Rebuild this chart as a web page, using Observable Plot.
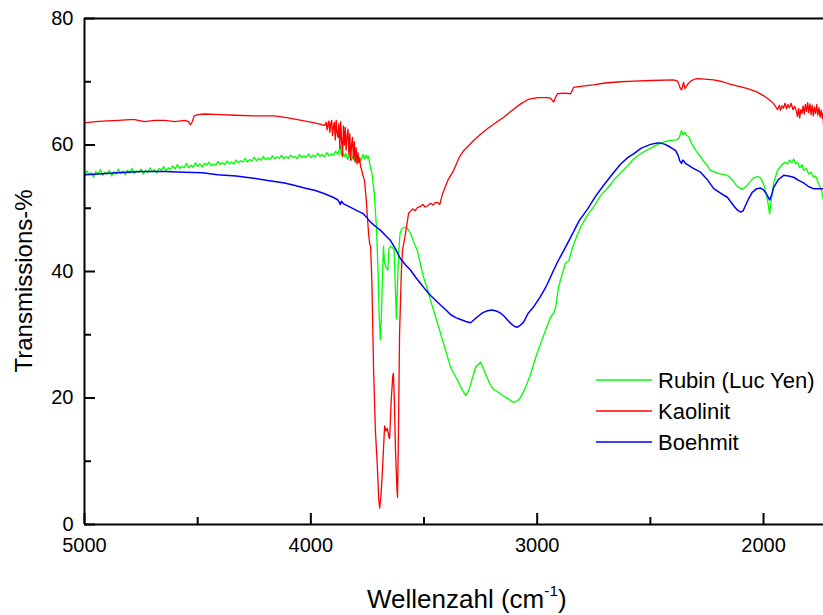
<!DOCTYPE html>
<html><head><meta charset="utf-8">
<script src="https://cdn.jsdelivr.net/npm/d3@7"></script>
<script src="https://cdn.jsdelivr.net/npm/@observablehq/plot@0.6"></script>
<style>body{margin:0;background:#fff}#chart{width:823px;height:615px}</style>
</head><body><div id="chart"></div>
<script>
const seriesNames = ["Rubin (Luc Yen)", "Kaolinit", "Boehmit"];
const seriesColors = ["#00ff00", "#ff0000", "#0000ff"];
const xMajorTicks = [5000, 4000, 3000, 2000];
const xMinorTicks = [4500, 3500, 2500];
const yMajorTicks = [0, 20, 40, 60, 80];
const yMinorTicks = [10, 30, 50, 70];
const xDomain = [5000, 1735];
const yDomain = [0, 80];
const xLabelMain = "Wellenzahl (cm";
const xLabelSup = "-1";
const xLabelEnd = ")";
const yLabel = "Transmissions-%";

// [wavenumber, transmission %]
const rubin = [[5000,55.0],[4990,55.9],[4980,55.3],[4970,55.6],[4960,54.9],[4950,55.8],[4940,55.4],[4930,56.1],[4920,55.2],[4910,55.7],[4900,55.5],[4890,56.0],[4880,55.1],[4870,55.8],[4860,55.4],[4850,56.2],[4840,55.5],[4830,55.9],[4820,55.3],[4810,56.0],[4800,55.6],[4790,56.3],[4780,55.5],[4770,55.9],[4760,55.7],[4750,56.2],[4740,55.4],[4730,56.0],[4720,55.6],[4710,56.4],[4700,55.8],[4690,56.1],[4680,55.6],[4670,56.3],[4660,56.0],[4650,56.6],[4640,55.9],[4630,56.4],[4620,56.1],[4610,56.7],[4600,56.2],[4590,56.9],[4580,56.3],[4570,56.6],[4560,56.4],[4550,57.1],[4540,56.4],[4530,56.8],[4520,56.5],[4510,57.2],[4500,56.6],[4490,57.0],[4480,56.5],[4470,57.1],[4460,56.8],[4450,57.3],[4440,56.7],[4430,57.0],[4420,56.8],[4410,57.4],[4400,56.9],[4390,57.2],[4380,56.9],[4370,57.5],[4360,57.0],[4350,57.3],[4340,57.0],[4330,57.6],[4320,57.2],[4310,57.5],[4300,57.3],[4290,57.9],[4280,57.3],[4270,57.7],[4260,57.5],[4250,58.1],[4240,57.5],[4230,57.9],[4220,57.6],[4210,58.2],[4200,57.7],[4190,58.0],[4180,57.7],[4170,58.3],[4160,57.8],[4150,58.1],[4140,57.9],[4130,58.4],[4120,57.8],[4110,58.2],[4100,57.9],[4090,58.4],[4080,58.0],[4070,58.2],[4060,57.8],[4050,58.5],[4040,58.0],[4030,58.3],[4020,58.0],[4010,58.6],[4000,58.0],[3990,58.4],[3980,58.1],[3970,58.7],[3960,58.2],[3950,58.5],[3940,58.1],[3930,58.8],[3920,58.3],[3910,58.6],[3900,58.4],[3890,59.0],[3880,58.5],[3875,59.2],[3870,59.8],[3865,58.4],[3860,58.9],[3852,58.2],[3845,58.7],[3838,57.7],[3830,58.4],[3822,57.6],[3815,58.2],[3808,57.5],[3800,57.9],[3792,57.3],[3785,58.1],[3778,57.5],[3770,58.5],[3763,57.8],[3756,58.4],[3750,57.9],[3745,58.2],[3740,57.0],[3730,55.5],[3720,52.5],[3710,47],[3703,40],[3698,33],[3693,29.2],[3688,33],[3683,40],[3679,44],[3675,41.5],[3668,40.7],[3660,40.2],[3655,43.5],[3648,44],[3640,43.8],[3632,43.5],[3627,38],[3622,32.5],[3617,38],[3612,43],[3606,46],[3598,46.8],[3585,47],[3573,46.8],[3559,46],[3545,44.6],[3529,43.3],[3515,41],[3502,39.1],[3485,37.2],[3471,35.4],[3450,33.0],[3427,30.2],[3405,27.6],[3383,24.9],[3352,22.8],[3330,21.2],[3316,20.4],[3305,21.0],[3294,22.2],[3272,24.9],[3250,25.7],[3228,23.8],[3210,22.3],[3197,21.5],[3175,21.0],[3153,20.4],[3130,19.9],[3104,19.3],[3085,19.6],[3073,20.1],[3050,21.8],[3029,23.8],[3005,26.6],[2985,28.6],[2960,31.0],[2941,32.8],[2927,33.4],[2918,34.4],[2906,37.5],[2890,39.5],[2875,41.3],[2860,41.7],[2844,43.8],[2825,45.6],[2808,47],[2780,48.8],[2751,50.2],[2720,52.0],[2689,53.2],[2660,54.5],[2631,55.6],[2600,56.7],[2574,57.8],[2540,58.7],[2499,59.5],[2455,60.3],[2420,60.7],[2385,60.8],[2372,61.2],[2362,62.3],[2355,61.6],[2348,62.0],[2340,61.5],[2330,61.3],[2320,60.4],[2309,59.7],[2295,58.9],[2278,58.1],[2255,57.0],[2234,56.0],[2200,55.5],[2159,55.2],[2140,54.6],[2120,53.6],[2100,53.1],[2092,53.0],[2075,53.5],[2066,53.9],[2044,54.8],[2025,55.0],[2013,54.8],[2000,53.9],[1990,52.5],[1982,51.2],[1973,49.1],[1965,51.5],[1955,54.0],[1938,56.0],[1920,56.8],[1905,57.3],[1894,57.0],[1885,57.6],[1875,57.2],[1867,57.8],[1858,57.0],[1850,57.3],[1840,56.4],[1830,56.9],[1823,56.0],[1812,56.3],[1800,55.4],[1790,55.7],[1779,54.9],[1770,55.1],[1757,53.9],[1745,53.0],[1735,51.2]];

const kaolinit = [[5000,63.5],[4950,63.7],[4900,63.8],[4850,63.9],[4800,64.0],[4779,64.0],[4735,63.7],[4690,63.9],[4646,63.9],[4600,63.7],[4558,63.9],[4540,63.7],[4532,63.2],[4525,63.6],[4515,64.6],[4500,64.8],[4470,64.9],[4400,64.8],[4337,64.7],[4250,64.6],[4160,64.6],[4100,64.3],[4059,64.0],[4000,63.6],[3960,63.3],[3939,63.1],[3932,63.6],[3928,62.4],[3924,63.2],[3920,63.8],[3916,62.0],[3912,63.4],[3908,63.9],[3904,61.5],[3900,62.9],[3896,63.6],[3892,60.8],[3888,63.9],[3884,61.9],[3880,61.2],[3876,63.4],[3872,59.5],[3868,63.7],[3864,60.6],[3860,58.2],[3856,63.0],[3852,60.0],[3848,62.8],[3844,59.2],[3840,61.3],[3836,62.5],[3832,58.5],[3828,61.8],[3824,57.6],[3820,60.1],[3816,61.2],[3812,57.8],[3808,60.5],[3804,57.3],[3800,59.6],[3796,57.0],[3792,58.8],[3788,57.2],[3784,57.8],[3780,56.5],[3775,56.0],[3770,55.2],[3763,54.4],[3756,51.7],[3750,48.6],[3745,46.0],[3740,44.4],[3736,44.0],[3730,38],[3723,24.8],[3715,15],[3706,9],[3700,4],[3696,2.6],[3690,4.5],[3683,9],[3674,15.6],[3668,14.8],[3662,15.2],[3655,13.8],[3652,13.6],[3645,19.6],[3638,23.5],[3635,23.9],[3631,19.6],[3626,11.7],[3620,6],[3617,4.3],[3613,14.4],[3608,30.2],[3600,40.0],[3595,43.3],[3582,46.0],[3568,49.2],[3560,49.5],[3550,49.9],[3540,49.6],[3529,50.1],[3515,50.3],[3505,50.6],[3495,50.2],[3484,50.4],[3470,50.8],[3460,50.5],[3450,50.9],[3440,50.9],[3430,50.6],[3418,52.3],[3395,54.4],[3369,56.0],[3345,58.0],[3325,59.1],[3300,60.0],[3281,60.7],[3250,61.7],[3219,62.6],[3180,63.6],[3148,64.4],[3110,65.5],[3073,66.5],[3040,67.2],[2998,67.5],[2960,67.5],[2941,67.4],[2927,66.8],[2918,67.6],[2910,68.1],[2880,68.2],[2852,68.1],[2839,69.1],[2800,69.3],[2751,69.5],[2700,69.8],[2631,70.0],[2574,70.1],[2500,70.2],[2397,70.3],[2380,70.1],[2375,69.7],[2368,69.0],[2362,68.7],[2356,69.5],[2353,69.9],[2348,68.9],[2335,69.6],[2322,70.1],[2305,70.4],[2291,70.5],[2260,70.4],[2220,70.3],[2180,70.0],[2145,69.6],[2100,69.2],[2070,68.9],[2030,68.4],[2000,67.8],[1980,67.3],[1955,66.5],[1945,66.0],[1938,65.6],[1930,66.3],[1925,65.5],[1918,66.2],[1912,65.8],[1905,66.6],[1898,65.7],[1892,66.4],[1885,65.9],[1878,66.6],[1870,65.6],[1862,66.1],[1855,65.4],[1850,64.5],[1845,65.8],[1840,64.3],[1835,65.6],[1830,65.0],[1825,66.2],[1820,64.9],[1815,66.4],[1810,65.3],[1805,66.7],[1800,65.1],[1795,66.5],[1790,64.8],[1785,66.3],[1780,64.6],[1775,66.0],[1770,65.0],[1765,66.4],[1760,64.7],[1755,65.9],[1750,64.4],[1745,65.5],[1740,64.2],[1737,65.0],[1735,63.0]];

const boehmit = [[5000,55.3],[4900,55.5],[4854,55.6],[4750,55.8],[4650,55.8],[4558,55.7],[4480,55.6],[4412,55.3],[4330,55.1],[4262,54.8],[4190,54.4],[4116,54.0],[4070,53.6],[4028,53.2],[3980,52.8],[3939,52.3],[3900,51.7],[3880,51.3],[3870,50.6],[3865,51.1],[3855,50.7],[3811,49.9],[3790,49.5],[3767,49.1],[3750,48.4],[3736,47.8],[3720,47.3],[3692,46.5],[3670,45.7],[3648,44.9],[3625,43.5],[3604,42.0],[3580,41.0],[3559,40.2],[3537,39.1],[3515,38.1],[3493,37.1],[3471,36.2],[3450,35.5],[3427,34.7],[3405,34.0],[3383,33.2],[3360,32.7],[3338,32.4],[3315,32.1],[3294,31.9],[3275,32.5],[3258,33.0],[3240,33.5],[3219,33.8],[3200,33.9],[3184,33.8],[3165,33.5],[3148,33.0],[3130,32.3],[3117,31.8],[3100,31.3],[3087,31.2],[3075,31.5],[3060,32.0],[3040,33.4],[3016,34.4],[2990,35.8],[2970,37.0],[2954,38.1],[2930,40.0],[2910,41.5],[2880,43.5],[2852,45.4],[2815,48.0],[2777,49.9],[2740,52.0],[2707,53.6],[2670,55.3],[2631,57.0],[2600,58.0],[2574,58.6],[2540,59.5],[2499,60.1],[2470,60.3],[2455,60.3],[2435,60.1],[2419,59.8],[2400,59.4],[2388,59.1],[2378,58.4],[2370,57.5],[2362,57.1],[2357,57.6],[2352,57.5],[2345,57.1],[2336,56.9],[2310,56.3],[2278,55.7],[2250,54.6],[2220,53.1],[2190,52.4],[2159,51.7],[2132,50.4],[2115,49.7],[2101,49.4],[2090,49.6],[2080,50.4],[2066,51.5],[2050,52.5],[2030,53.1],[2013,53.2],[2000,52.9],[1991,52.5],[1980,51.8],[1973,51.3],[1965,52.0],[1955,53.3],[1935,54.5],[1911,55.2],[1890,55.1],[1867,54.9],[1845,54.4],[1823,54.0],[1800,53.4],[1779,53.1],[1755,53.1],[1735,53.1]];

const seriesData = [rubin, kaolinit, boehmit];

const W = 823, H = 615, mL = 84, mT = 18, mB = 91, mR = 0;
const innerW = W - mL - mR, innerH = H - mT - mB;
const FONT = "Arial, 'Liberation Sans', Helvetica, sans-serif";

const lineMarks = seriesData.map((s, i) =>
  Plot.line(s, {x: d => d[0], y: d => d[1], stroke: seriesColors[i], strokeWidth: i === 2 ? 1.5 : 1.3})
);

const svg = Plot.plot({
  width: W, height: H,
  marginLeft: mL, marginTop: mT, marginBottom: mB, marginRight: mR,
  style: {fontFamily: FONT, fontSize: "20px", background: "white", color: "black"},
  x: {domain: xDomain, ticks: xMajorTicks, tickSize: 0, tickPadding: 13, tickFormat: d => String(d), label: null},
  y: {domain: yDomain, ticks: yMajorTicks, tickSize: 0, tickPadding: 11, tickFormat: d => String(d), label: null},
  marks: [
    ...lineMarks,
    Plot.ruleY([yDomain[0]], {stroke: "black", strokeWidth: 2}),
    Plot.ruleY([yDomain[1]], {stroke: "black", strokeWidth: 2}),
    Plot.ruleX([xDomain[0]], {stroke: "black", strokeWidth: 2}),
    Plot.ruleX(xMajorTicks, {x: d => d, insetTop: innerH - 11, stroke: "black", strokeWidth: 2}),
    Plot.ruleX(xMinorTicks, {x: d => d, insetTop: innerH - 7, stroke: "black", strokeWidth: 2}),
    Plot.ruleY(yMajorTicks, {y: d => d, insetRight: innerW - 11, stroke: "black", strokeWidth: 2}),
    Plot.ruleY(yMinorTicks, {y: d => d, insetRight: innerW - 7, stroke: "black", strokeWidth: 2})
  ]
});

const root = d3.select(svg);
// x-axis title with superscript
const xt = root.append("text")
  .attr("x", 367).attr("y", 608)
  .attr("font-family", FONT).attr("font-size", 26).attr("fill", "black")
  .attr("text-anchor", "start");
xt.append("tspan").text(xLabelMain);
xt.append("tspan").attr("font-size", 15.5).attr("dy", -12).text(xLabelSup);
xt.append("tspan").attr("dy", 12).text(xLabelEnd);

// y-axis title
root.append("text")
  .attr("transform", "translate(32,281) rotate(-90)")
  .attr("font-family", FONT).attr("font-size", 24).attr("fill", "black")
  .attr("text-anchor", "middle")
  .text(yLabel);

// legend
const legend = root.append("g");
const legendY = [380, 411, 442];
seriesNames.forEach((name, i) => {
  legend.append("line")
    .attr("x1", 596).attr("x2", 652)
    .attr("y1", legendY[i]).attr("y2", legendY[i])
    .attr("stroke", seriesColors[i]).attr("stroke-width", 1.3);
  legend.append("text")
    .attr("x", 658).attr("y", legendY[i] + 8)
    .attr("text-anchor", "start")
    .attr("font-family", FONT).attr("font-size", 22).attr("fill", "black")
    .text(name);
});

document.getElementById("chart").appendChild(svg);
</script>
</body></html>
